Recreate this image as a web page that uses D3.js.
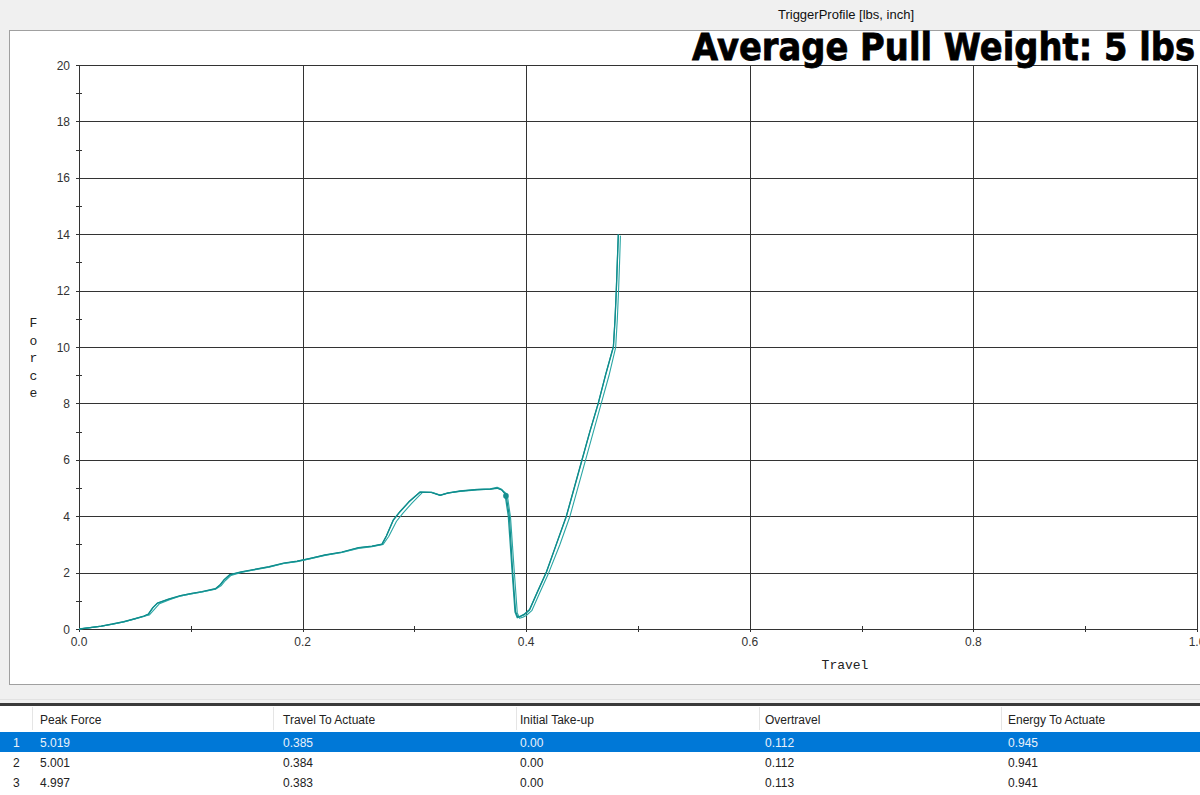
<!DOCTYPE html>
<html>
<head>
<meta charset="utf-8">
<script src="https://cdn.jsdelivr.net/npm/d3@7"></script>
<style>
html,body{margin:0;padding:0;background:#f0f0f0;overflow:hidden;}
svg{display:block;}
</style>
</head>
<body>
<svg id="chart" width="1200" height="795"></svg>
<script>
// ---------- data ----------
const chartTitle = "TriggerProfile [lbs, inch]";
const overlayText = "Average Pull Weight: 5 lbs";
const xLabel = "Travel";
const yLabel = "Force";
const xTicks = [0.0, 0.2, 0.4, 0.6, 0.8, 1.0];
const xMinorTicks = [0.1, 0.3, 0.5, 0.7, 0.9];
const yTicks = [0, 2, 4, 6, 8, 10, 12, 14, 16, 18, 20];
const yMinorTicks = [1, 3, 5, 7, 9, 11, 13, 15, 17, 19];

const travel1 = [0,0.010,0.020,0.030,0.040,0.050,0.058,0.062,0.066,0.070,0.080,0.090,0.100,0.110,0.122,0.126,0.130,0.135,0.145,0.156,0.170,0.183,0.195,0.207,0.220,0.235,0.250,0.262,0.271,0.275,0.281,0.287,0.295,0.305,0.315,0.323,0.330,0.341,0.356,0.368,0.374,0.378,0.381,0.384,0.3875,0.390,0.392,0.395,0.398,0.403,0.410,0.418,0.427,0.436,0.443,0.450,0.457,0.4645,0.471,0.478,0.4795,0.4806,0.4815,0.4824];
const force1  = [0,0.05,0.10,0.17,0.25,0.36,0.45,0.52,0.75,0.91,1.05,1.17,1.25,1.32,1.42,1.55,1.75,1.92,2.02,2.10,2.20,2.33,2.40,2.50,2.62,2.72,2.88,2.93,3.00,3.30,3.85,4.15,4.50,4.86,4.85,4.75,4.83,4.90,4.95,4.97,5.02,4.95,4.80,4.00,2.00,0.60,0.40,0.45,0.50,0.67,1.30,2.00,3.00,4.00,5.00,6.00,7.00,8.00,9.00,10.00,11.0,12.0,13.0,14.0];

const travel2 = [0,0.010,0.020,0.030,0.040,0.050,0.058,0.063,0.068,0.072,0.081,0.090,0.100,0.110,0.122,0.127,0.131,0.136,0.146,0.156,0.170,0.183,0.195,0.207,0.220,0.235,0.250,0.262,0.272,0.277,0.284,0.290,0.298,0.307,0.316,0.323,0.330,0.341,0.356,0.368,0.374,0.378,0.383,0.386,0.3895,0.392,0.394,0.397,0.400,0.405,0.412,0.420,0.430,0.439,0.446,0.453,0.460,0.467,0.474,0.480,0.4815,0.4826,0.4835,0.4843];
const force2  = [0,0.05,0.10,0.17,0.25,0.36,0.45,0.50,0.72,0.90,1.04,1.16,1.24,1.31,1.41,1.53,1.72,1.90,2.01,2.09,2.19,2.32,2.39,2.49,2.61,2.71,2.86,2.92,3.00,3.28,3.82,4.12,4.47,4.84,4.84,4.74,4.82,4.88,4.93,4.96,5.00,4.94,4.78,3.95,1.95,0.58,0.38,0.42,0.48,0.65,1.28,1.98,2.98,3.98,4.98,5.98,6.98,7.98,8.98,9.98,10.98,11.98,12.98,13.95];

const travel3 = [0,0.010,0.020,0.030,0.040,0.050,0.058,0.062,0.066,0.070,0.080,0.090,0.100,0.110,0.122,0.126,0.130,0.135,0.145,0.156,0.170,0.183,0.195,0.207,0.220,0.235,0.250,0.262,0.271,0.275,0.281,0.287,0.295,0.305,0.315,0.323,0.330,0.341,0.356,0.368,0.374,0.378,0.382,0.385,0.388,0.3905,0.3925,0.395,0.398,0.403,0.410,0.418,0.427,0.436,0.443,0.450,0.457,0.4645,0.471,0.478,0.4795,0.4806,0.4815,0.4824];
const force3  = [0,0.05,0.10,0.18,0.26,0.37,0.46,0.53,0.76,0.92,1.06,1.18,1.26,1.33,1.43,1.56,1.76,1.93,2.03,2.11,2.21,2.34,2.41,2.51,2.63,2.73,2.89,2.94,3.01,3.31,3.86,4.16,4.51,4.85,4.84,4.74,4.82,4.89,4.94,4.96,4.99,4.93,4.75,3.98,1.98,0.62,0.42,0.46,0.52,0.69,1.32,2.02,3.02,4.02,5.02,6.02,7.02,8.02,9.02,10.02,11.02,12.02,13.02,13.98];

const tableHeaders = ["", "Peak Force", "Travel To Actuate", "Initial Take-up", "Overtravel", "Energy To Actuate"];
const rowIndex = ["1", "2", "3"];
const peakForce = ["5.019", "5.001", "4.997"];
const travelToActuate = ["0.385", "0.384", "0.383"];
const initialTakeUp = ["0.00", "0.00", "0.00"];
const overtravel = ["0.112", "0.112", "0.113"];
const energyToActuate = ["0.945", "0.941", "0.941"];

// ---------- drawing ----------
const svg = d3.select("#chart");
const x = d3.scaleLinear().domain([0, 1]).range([79, 1197]);
const y = d3.scaleLinear().domain([0, 20]).range([629, 65]);

// white panel
svg.append("rect").attr("x", 9.5).attr("y", 30.5).attr("width", 1200).attr("height", 654)
  .attr("fill", "#fff").attr("stroke", "#a0a0a0").attr("stroke-width", 1);

// title
svg.append("text").attr("x", 846).attr("y", 19).attr("text-anchor", "middle")
  .attr("font-family", "Liberation Sans, Arial, sans-serif").attr("font-size", 13)
  .attr("fill", "#111").text(chartTitle);

// grid
const gridColor = "#333";
const g = svg.append("g");
g.selectAll("line.hg").data(yTicks.filter(d => d > 0)).join("line")
  .attr("x1", x(0) - 3).attr("x2", x(1))
  .attr("y1", d => Math.round(y(d)) + 0.5).attr("y2", d => Math.round(y(d)) + 0.5)
  .attr("stroke", gridColor).attr("stroke-width", 1);
g.selectAll("line.vg").data(xTicks.filter(d => d > 0)).join("line")
  .attr("y1", y(20)).attr("y2", y(0) + 3)
  .attr("x1", d => Math.round(x(d)) + 0.5).attr("x2", d => Math.round(x(d)) + 0.5)
  .attr("stroke", gridColor).attr("stroke-width", 1);

// axes lines
g.append("line").attr("x1", x(0) - 3).attr("x2", x(1)).attr("y1", Math.round(y(0)) + 0.5).attr("y2", Math.round(y(0)) + 0.5)
  .attr("stroke", gridColor);
g.append("line").attr("x1", Math.round(x(0)) + 0.5).attr("x2", Math.round(x(0)) + 0.5).attr("y1", y(20)).attr("y2", y(0) + 3)
  .attr("stroke", gridColor);

// minor ticks
g.selectAll("line.ym").data(yMinorTicks).join("line")
  .attr("x1", x(0) - 3).attr("x2", x(0) + 3)
  .attr("y1", d => Math.round(y(d)) + 0.5).attr("y2", d => Math.round(y(d)) + 0.5)
  .attr("stroke", gridColor);
g.selectAll("line.xm").data(xMinorTicks).join("line")
  .attr("y1", y(0) - 3).attr("y2", y(0) + 3)
  .attr("x1", d => Math.round(x(d)) + 0.5).attr("x2", d => Math.round(x(d)) + 0.5)
  .attr("stroke", gridColor);

// tick labels
const tickFont = "Liberation Sans, Arial, sans-serif";
g.selectAll("text.yl").data(yTicks).join("text")
  .attr("x", x(0) - 9).attr("y", d => y(d) + 4.5).attr("text-anchor", "end")
  .attr("font-family", tickFont).attr("font-size", 12).attr("fill", "#333")
  .text(d => d3.format("d")(d));
g.selectAll("text.xl").data(xTicks).join("text")
  .attr("x", d => x(d)).attr("y", 646).attr("text-anchor", "middle")
  .attr("font-family", tickFont).attr("font-size", 12).attr("fill", "#333")
  .text(d => d3.format(".1f")(d));

// axis titles
svg.append("text").attr("x", 845).attr("y", 669).attr("text-anchor", "middle")
  .attr("font-family", "Liberation Mono, Courier New, monospace").attr("font-size", 13)
  .attr("fill", "#222").text(xLabel);
svg.append("g").selectAll("text").data(yLabel.split("")).join("text")
  .attr("x", 33.5).attr("y", (d, i) => 327 + i * 17.6).attr("text-anchor", "middle")
  .attr("font-family", "Liberation Mono, Courier New, monospace").attr("font-size", 13)
  .attr("fill", "#222").text(d => d);

// traces
const line = d3.line().x(d => x(d[0])).y(d => y(d[1]));
const series = [
  {t: travel1, f: force1, c: "#1a9898", w: 1.3},
  {t: travel2, f: force2, c: "#2aa6a4", w: 1.1},
  {t: travel3, f: force3, c: "#0f8c8c", w: 1.2}
];
series.forEach(s => {
  svg.append("path").datum(s.t.map((v, i) => [v, s.f[i]]))
    .attr("d", line).attr("fill", "none").attr("stroke", s.c)
    .attr("stroke-width", s.w).attr("stroke-linejoin", "round");
});
// dense cluster near the break point (many samples at same spot)
svg.append("circle").attr("cx", x(travel1[42]) + 1).attr("cy", y(4.72)).attr("r", 2.8).attr("fill", "#168f8f");

// overlay text
svg.append("text").attr("x", 1195).attr("y", 60).attr("text-anchor", "end")
  .attr("font-family", "DejaVu Sans, Liberation Sans, sans-serif").attr("font-weight", "bold")
  .attr("font-size", 37).attr("fill", "#000").attr("stroke", "#000").attr("stroke-width", 0.8)
  .attr("textLength", 503).attr("lengthAdjust", "spacingAndGlyphs")
  .text(overlayText);

// ---------- table ----------
svg.append("line").attr("x1", 0).attr("x2", 1200).attr("y1", 699.5).attr("y2", 699.5).attr("stroke", "#e2e2e2");
svg.append("rect").attr("x", 0).attr("y", 703).attr("width", 1200).attr("height", 3).attr("fill", "#3a3a3a");
svg.append("rect").attr("x", 0).attr("y", 706).attr("width", 1200).attr("height", 89).attr("fill", "#fff");

const colX = [13, 40, 283, 520, 765, 1008];
const sepX = [32, 273, 516, 759, 1001];
const tFont = "Liberation Sans, Arial, sans-serif";
svg.selectAll("line.hs").data(sepX).join("line")
  .attr("x1", d => d + 0.5).attr("x2", d => d + 0.5).attr("y1", 707).attr("y2", 730)
  .attr("stroke", "#e5e5e5");
svg.selectAll("text.hd").data(tableHeaders).join("text")
  .attr("x", (d, i) => colX[i]).attr("y", 723.5)
  .attr("font-family", tFont).attr("font-size", 12).attr("fill", "#222").text(d => d);

const rows = rowIndex.map((r, i) => [r, peakForce[i], travelToActuate[i], initialTakeUp[i], overtravel[i], energyToActuate[i]]);
const rowY = [732, 752, 772];
svg.append("rect").attr("x", 0).attr("y", rowY[0]).attr("width", 1200).attr("height", 20).attr("fill", "#0078d7");
rows.forEach((r, ri) => {
  svg.append("g").selectAll("text").data(r).join("text")
    .attr("x", (d, i) => colX[i]).attr("y", rowY[ri] + 15)
    .attr("font-family", tFont).attr("font-size", 12)
    .attr("fill", ri === 0 ? "#eaf2fb" : "#222").text(d => d);
});
</script>
</body>
</html>
